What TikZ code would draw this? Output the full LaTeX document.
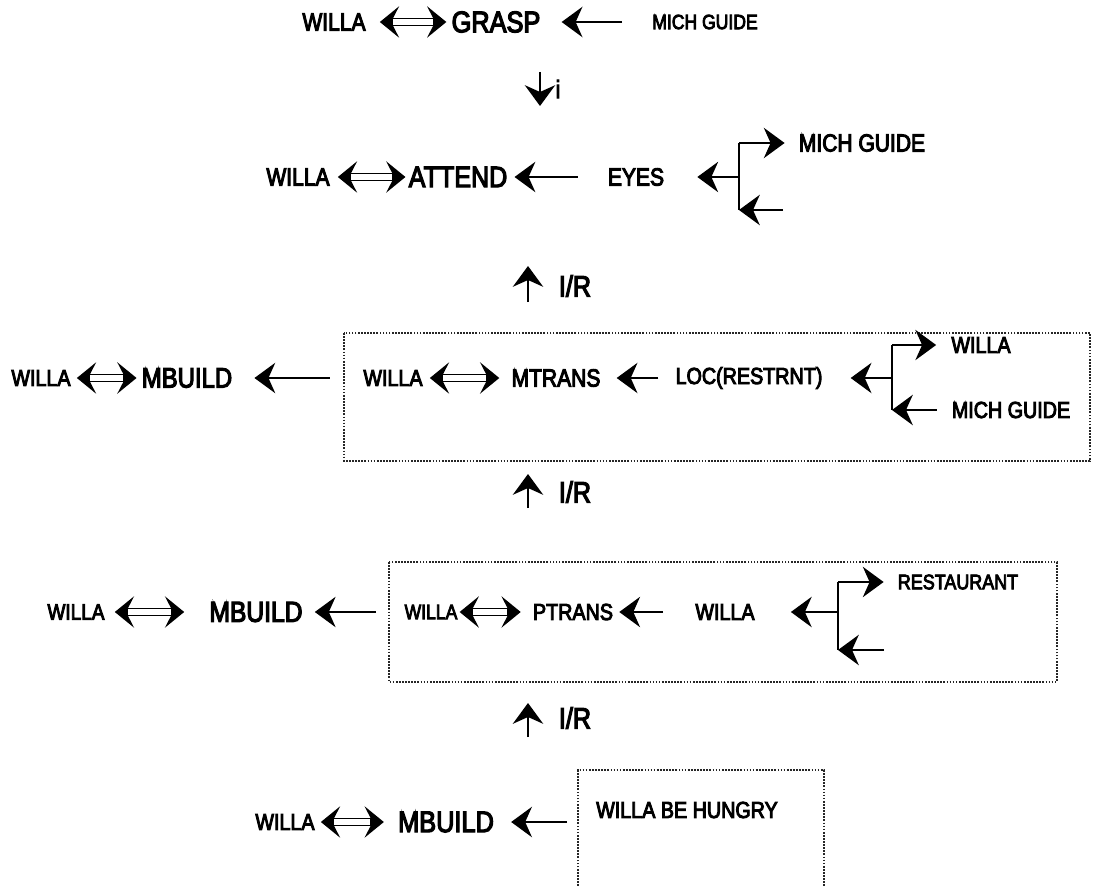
\documentclass[tikz,border=0pt]{standalone}
\usepackage{fontspec}
\setmainfont{Liberation Sans}
\newfontfamily\narfont{Liberation Sans}[FakeBold=4, FakeStretch=0.85]
\usetikzlibrary{arrows.meta}

\begin{document}
\begin{tikzpicture}[
    x=0.025cm, y=-0.025cm,
    ntxt/.style={font=\narfont\fontsize{#1}{#1}\selectfont, inner sep=0pt},
    arr/.style={-{Stealth[length=5.2mm, width=7.6mm, inset=1.7mm, line width=1pt]}, line width=2pt},
    dbl/.style 2 args={{Stealth[length=4.8mm, width=7.8mm, inset=2mm]}-{Stealth[length=4.8mm, width=7.8mm, inset=2mm]},
        line width=6.3pt, shorten <=#1*0.25mm, shorten >=#2*0.25mm,
        postaction={draw=white, line width=3.7pt, -, shorten <=#1*0.25mm+3.4mm, shorten >=#2*0.25mm+3.4mm}},
    stem/.style={line width=2pt},
    frame/.style={densely dotted, line width=1.2pt, black!85},
    gaps/.style 2 args={shorten <=#1*0.25mm, shorten >=#2*0.25mm}
]
\useasboundingbox (0,0) rectangle (1093,886);

% GRASP row
\node[ntxt=17.6] (willa1) at (334,22) {WILLA};
\node[ntxt=21.2] (grasp) at (496,22) {GRASP};
\node[ntxt=14.7] (mich1) at (705,22) {MICH GUIDE};
\draw[dbl={14}{5}] (willa1) -- (grasp);
\draw[arr, gaps={30}{21}] (mich1) -- (grasp);

\coordinate (d1a) at (540,72);
\coordinate (d1b) at (540,106);
\draw[arr] (d1a) -- (d1b);
\node[ntxt=18] (lbi) at (558,89) {i};

% ATTEND row
\node[ntxt=17.6] (willa2) at (298,177) {WILLA};
\node[ntxt=21] (attend) at (458,177) {ATTEND};
\node[ntxt=17.6] (eyes) at (636,177) {EYES};
\node[ntxt=17.6] (mich2) at (862,143) {MICH GUIDE};
\draw[dbl={8}{3}] (willa2) -- (attend);
\draw[arr, gaps={30}{7}] (eyes) -- (attend);
\coordinate (f2) at (739,177);
\coordinate (f2u) at (739,143);
\coordinate (f2d) at (739,210);
\coordinate (f2e) at (783,210);
\draw[stem] (f2u) -- (f2d);
\draw[arr, gaps={0}{33}] (f2) -- (eyes);
\draw[arr, gaps={0}{14}] (f2u) -- (mich2);
\draw[arr] (f2e) -- (f2d);

\coordinate (u1a) at (528,302);
\coordinate (u1b) at (528,266);
\draw[arr] (u1a) -- (u1b);
\node[ntxt=21] (ir1) at (575,286) {I/R};

% MTRANS row
\draw[frame] (344,333) rectangle (1090,461);
\coordinate (box3w) at (344,378);
\node[ntxt=16.5] (willa3) at (41,378) {WILLA};
\node[ntxt=20] (mbuild3) at (187,378) {MBUILD};
\draw[dbl={6}{5}] (willa3) -- (mbuild3);
\draw[arr, gaps={14}{22}] (box3w) -- (mbuild3);
\node[ntxt=16.5] (willa3b) at (393,378) {WILLA};
\node[ntxt=17.6] (mtrans) at (556,378) {MTRANS};
\node[ntxt=16.5] (loc) at (749,378) {LOC(RESTRNT)};
\node[ntxt=16.5] (willa3c) at (981,345) {WILLA};
\node[ntxt=16.5] (mich3) at (1011,410) {MICH GUIDE};
\draw[dbl={7}{12}] (willa3b) -- (mtrans);
\draw[arr, gaps={17}{16}] (loc) -- (mtrans);
\coordinate (f3) at (892,378);
\coordinate (f3u) at (892,345);
\coordinate (f3d) at (892,410);
\draw[stem] (f3u) -- (f3d);
\draw[arr, gaps={0}{28}] (f3) -- (loc);
\draw[arr, gaps={0}{15}] (f3u) -- (willa3c);
\draw[arr, gaps={15}{0}] (mich3) -- (f3d);

\coordinate (u2a) at (528,508);
\coordinate (u2b) at (528,474);
\draw[arr] (u2a) -- (u2b);
\node[ntxt=21] (ir2) at (575,492) {I/R};

% PTRANS row
\draw[frame] (389,562) rectangle (1057,682);
\coordinate (box4w) at (389,612);
\node[ntxt=15.9] (willa4) at (76,612) {WILLA};
\node[ntxt=20.6] (mbuild4) at (256,612) {MBUILD};
\draw[dbl={10}{25}] (willa4) -- (mbuild4);
\draw[arr, gaps={13}{12}] (box4w) -- (mbuild4);
\node[ntxt=14.7] (willa4b) at (431,612) {WILLA};
\node[ntxt=16.5] (ptrans) at (573,612) {PTRANS};
\node[ntxt=16.5] (willa4c) at (725,612) {WILLA};
\node[ntxt=15] (rest) at (958,582) {RESTAURANT};
\draw[dbl={2}{12}] (willa4b) -- (ptrans);
\draw[arr, gaps={32}{6}] (willa4c) -- (ptrans);
\coordinate (f4) at (838,612);
\coordinate (f4u) at (838,582);
\coordinate (f4d) at (838,650);
\coordinate (f4e) at (884,650);
\draw[stem] (f4u) -- (f4d);
\draw[arr, gaps={0}{36}] (f4) -- (willa4c);
\draw[arr, gaps={0}{14}] (f4u) -- (rest);
\draw[arr] (f4e) -- (f4d);

\coordinate (u3a) at (528,737);
\coordinate (u3b) at (528,703);
\draw[arr] (u3a) -- (u3b);
\node[ntxt=21] (ir3) at (575,718) {I/R};

% hungry row
\draw[frame] (578,886) |- (824,770) -- (824,886);
\coordinate (box5w) at (578,822);
\node[ntxt=16.5] (willa5) at (285,822) {WILLA};
\node[ntxt=21.2] (mbuild5) at (446,822) {MBUILD};
\node[ntxt=16.5] (hungry) at (687,810) {WILLA BE HUNGRY};
\draw[dbl={6}{14}] (willa5) -- (mbuild5);
\draw[arr, gaps={11}{17}] (box5w) -- (mbuild5);

\end{tikzpicture}
\end{document}
